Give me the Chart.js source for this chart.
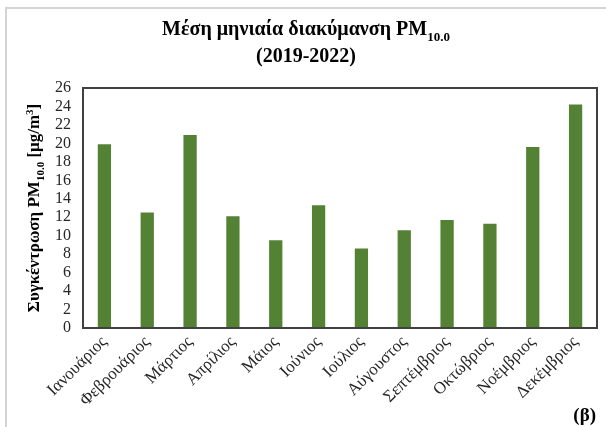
<!DOCTYPE html>
<html>
<head>
<meta charset="utf-8">
<script src="https://cdn.jsdelivr.net/npm/chart.js@4"></script>
<style>
  html, body { margin: 0; padding: 0; background: #fff; }
  #wrap { width: 606px; height: 427px; }
</style>
</head>
<body>
<div id="wrap"><canvas id="pmChart" width="606" height="427"></canvas></div>
<script>
const months = ['Ιανουάριος', 'Φεβρουάριος', 'Μάρτιος', 'Απρίλιος', 'Μάιος', 'Ιούνιος',
	'Ιούλιος', 'Αύγουστος', 'Σεπτέμβριος', 'Οκτώβριος', 'Νοέμβριος', 'Δεκέμβριος'];
const pm10 = [19.9, 12.5, 20.9, 12.1, 9.5, 13.3, 8.6, 10.6, 11.7, 11.3, 19.6, 24.2];
const yMin = 0, yMax = 26, yStep = 2;

const serif = "'Liberation Serif', 'Times New Roman', serif";
const frameColor = '#404040';

// text runs with optional sub/superscript
function runsWidth(ctx, runs, size) {
	let w = 0;
	runs.forEach(r => {
		ctx.font = `bold ${r.pos ? Math.round(size * 0.65) : size}px ${serif}`;
		w += ctx.measureText(r.t).width;
	});
	return w;
}
function drawRuns(ctx, runs, x, y, size) {
	runs.forEach(r => {
		ctx.font = `bold ${r.pos ? Math.round(size * 0.65) : size}px ${serif}`;
		let dy = 0;
		if (r.pos === 'sub') dy = size * 0.3;
		if (r.pos === 'sup') dy = -size * 0.38;
		ctx.fillText(r.t, x, y + dy);
		x += ctx.measureText(r.t).width;
	});
}

const decorations = {
	id: 'decorations',
	beforeDraw(chart) {
		const ctx = chart.ctx;
		ctx.save();
		ctx.fillStyle = '#fff';
		ctx.fillRect(0, 0, chart.width, chart.height);
		// outer chart border (left and top edges)
		ctx.fillStyle = '#d4d4d4';
		ctx.fillRect(5, 7, 2, chart.height);
		ctx.fillRect(5, 7, chart.width, 2);
		ctx.restore();
	},
	afterDraw(chart) {
		const ctx = chart.ctx;
		const a = chart.chartArea;
		ctx.save();
		// plot frame
		ctx.strokeStyle = frameColor;
		ctx.lineWidth = 2;
		ctx.strokeRect(a.left, a.top, a.width, a.height);

		ctx.fillStyle = '#000';
		ctx.textBaseline = 'alphabetic';
		ctx.textAlign = 'left';
		// title
		const t1 = [{ t: 'Μέση μηνιαία διακύμανση PM' }, { t: '10.0', pos: 'sub' }];
		const w1 = runsWidth(ctx, t1, 20);
		drawRuns(ctx, t1, 306 - w1 / 2, 35, 20);
		ctx.font = `bold 20px ${serif}`;
		ctx.textAlign = 'center';
		ctx.fillText('(2019-2022)', 306, 62);
		ctx.textAlign = 'left';

		// y axis title
		const yt = [{ t: 'Συγκέντρωση PM' }, { t: '10.0', pos: 'sub' }, { t: ' [μg/m' },
			{ t: '3', pos: 'sup' }, { t: ']' }];
		const wy = runsWidth(ctx, yt, 17);
		ctx.translate(39, (a.top + a.bottom) / 2);
		ctx.rotate(-Math.PI / 2);
		drawRuns(ctx, yt, -wy / 2, 0, 17);
		ctx.setTransform(1, 0, 0, 1, 0, 0);

		// panel mark
		ctx.font = `bold 19px ${serif}`;
		ctx.textAlign = 'right';
		ctx.fillText('(β)', 596, 421);
		ctx.restore();
	}
};

new Chart(document.getElementById('pmChart'), {
	type: 'bar',
	data: {
		labels: months,
		datasets: [{
			data: pm10,
			backgroundColor: '#548235',
			borderWidth: 0,
			barPercentage: 0.31,
			categoryPercentage: 1.0
		}]
	},
	options: {
		responsive: false,
		animation: false,
		events: [],
		layout: { padding: { left: 0, top: 88, right: 9, bottom: 0 } },
		plugins: {
			legend: { display: false },
			tooltip: { enabled: false },
			title: { display: false }
		},
		scales: {
			x: {
				grid: { display: false, drawTicks: false },
				border: { display: false },
				ticks: {
					color: '#262626',
					font: { family: serif, size: 17 },
					minRotation: 45,
					maxRotation: 45,
					padding: 4,
					autoSkip: false
				},
				afterFit: s => { s.height = 99; }
			},
			y: {
				min: yMin,
				max: yMax,
				grid: { display: false, drawTicks: false },
				border: { display: false },
				ticks: {
					stepSize: yStep,
					autoSkip: false,
					color: '#262626',
					font: { family: serif, size: 16 },
					padding: 12
				},
				afterFit: s => { s.width = 83; }
			}
		}
	},
	plugins: [decorations]
});
</script>
</body>
</html>
